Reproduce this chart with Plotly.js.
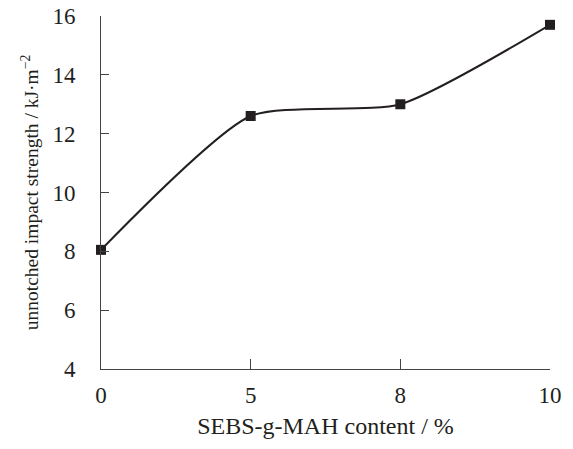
<!DOCTYPE html>
<html>
<head>
<meta charset="utf-8">
<script src="https://cdn.plot.ly/plotly-3.0.1.min.js"></script>
<style>html,body{margin:0;padding:0;background:#fff;}#chart{width:573px;height:449px;}</style>
</head>
<body>
<div id="chart"></div>
<script>
var categories = ["0", "5", "8", "10"];
var impactStrength = [8.05, 12.6, 13.0, 15.7];
var yTicks = [4, 6, 8, 10, 12, 14, 16];

var xPos = categories.map(function (c, i) { return i; });

var trace = {
  x: xPos,
  y: impactStrength,
  type: "scatter",
  mode: "lines+markers",
  line: { shape: "spline", smoothing: 0.6, color: "#231f20", width: 2 },
  marker: { symbol: "square", size: 10, color: "#231f20" },
  cliponaxis: false,
  hoverinfo: "skip"
};

var fam = "Liberation Serif, Times New Roman, serif";
var ink = "#231f20";

var layout = {
  width: 573,
  height: 449,
  margin: { l: 101, r: 23, t: 16, b: 80 },
  paper_bgcolor: "#fff",
  plot_bgcolor: "#fff",
  showlegend: false,
  font: { family: fam, color: ink },
  xaxis: {
    range: [0, 3],
    tickmode: "array",
    tickvals: xPos,
    ticktext: categories,
    ticks: "inside",
    ticklen: 10,
    tickwidth: 1,
    tickcolor: "#444",
    showline: true,
    linecolor: "#444",
    linewidth: 1,
    showgrid: false,
    zeroline: false,
    tickfont: { family: fam, size: 23, color: ink },
    ticklabelstandoff: 5,
    title: { text: "SEBS-g-MAH content / %", font: { family: fam, size: 24, color: ink }, standoff: 10 }
  },
  yaxis: {
    range: [4, 16],
    tickmode: "array",
    tickvals: yTicks,
    ticktext: yTicks.map(String),
    ticks: "inside",
    ticklen: 8,
    tickwidth: 1,
    tickcolor: "#444",
    showline: true,
    linecolor: "#444",
    linewidth: 1,
    showgrid: false,
    zeroline: false,
    tickfont: { family: fam, size: 23, color: ink },
    ticklabelstandoff: 20,
    title: { text: "unnotched impact strength / kJ·m<sup>−2</sup>", font: { family: fam, size: 19.5, color: ink }, standoff: 8 }
  }
};

Plotly.newPlot("chart", [trace], layout, { staticPlot: true, displayModeBar: false });
</script>
</body>
</html>
